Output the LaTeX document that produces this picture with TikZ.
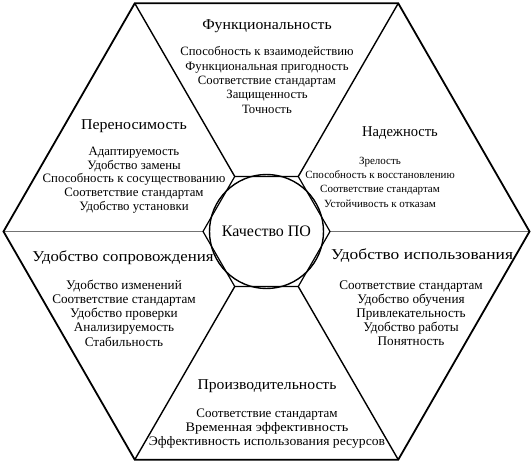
\documentclass[tikz,border=0pt]{standalone}
\usepackage{graphicx}
\usepackage{fontspec}
\setmainfont{Liberation Serif}
\newcommand{\hs}[2]{\scalebox{#1}[1]{#2}}
\begin{document}
\begin{tikzpicture}[x=1pt,y=-1pt,
  edge/.style={line width=1.8pt, line join=miter},
  spoke/.style={line width=1.4pt},
  hspoke/.style={line width=0.6pt, draw=black!55},
  inner/.style={line width=1.2pt, line join=miter},
  title/.style={font=\fontsize{15}{17}\selectfont, inner sep=0pt},
  item/.style={align=center, inner sep=0pt}]
\useasboundingbox (0,0) rectangle (532,462);
% outer hexagon
\coordinate (O1) at (529.5,231.5);
\coordinate (O2) at (398.25,3.3);
\coordinate (O3) at (134.75,3.3);
\coordinate (O4) at (3.5,231.5);
\coordinate (O5) at (134.75,459.7);
\coordinate (O6) at (398.25,459.7);
% inner hexagon
\coordinate (I1) at (330,231.5);
\coordinate (I2) at (298.25,176.5);
\coordinate (I3) at (234.75,176.5);
\coordinate (I4) at (203,231.5);
\coordinate (I5) at (234.75,286.5);
\coordinate (I6) at (298.25,286.5);
\draw[hspoke] (I1) -- (O1);
\draw[hspoke] (I4) -- (O4);
\draw[spoke] (I2) -- (O2);
\draw[spoke] (I3) -- (O3);
\draw[spoke] (I5) -- (O5);
\draw[spoke] (I6) -- (O6);
\draw[edge] (O1) -- (O2) -- (O3) -- (O4) -- (O5) -- (O6) -- cycle;
\draw[inner] (I1) -- (I2) -- (I3) -- (I4) -- (I5) -- (I6) -- cycle;
\node[circle, draw, line width=1.4pt, minimum size=114pt, inner sep=0pt,
  font=\fontsize{16}{18}\selectfont] (q) at (266.5,231.5) {Качество ПО};
% titles
\node[title] (t1) at (267,26) {\hs{1.05}{Функциональность}};
\node[title] (t2) at (134,126) {\hs{1.06}{Переносимость}};
\node[title] (t3) at (400,133) {\hs{0.97}{Надежность}};
\node[title] (t4) at (123,258) {\hs{1.12}{Удобство сопровождения}};
\node[title] (t5) at (422,256) {\hs{1.16}{Удобство использования}};
\node[title] (t6) at (267,386) {\hs{1.045}{Производительность}};
% items
\node[item, font=\fontsize{12.7}{14.3}\selectfont] (l1) at (267,80) {Способность к взаимодействию\\Функциональная пригодность\\Соответствие стандартам\\Защищенность\\Точность};
\node[item, font=\fontsize{12.8}{13.8}\selectfont] (l2) at (134,180) {Адаптируемость\\Удобство замены\\Способность к сосуществованию\\Соответствие стандартам\\Удобство установки};
\node[item, font=\fontsize{11}{14.3}\selectfont] (l3) at (380,182) {Зрелость\\Способность к восстановлению\\Соответствие стандартам\\Устойчивость к отказам};
\node[item, font=\fontsize{13.2}{14.2}\selectfont] (l4) at (124,313) {Удобство изменений\\Соответствие стандартам\\Удобство проверки\\Анализируемость\\Стабильность};
\node[item, font=\fontsize{13.2}{14}\selectfont] (l5) at (411,313.5) {Соответствие стандартам\\Удобство обучения\\Привлекательность\\Удобство работы\\Понятность};
\node[item, font=\fontsize{13}{14}\selectfont] (l6) at (267,428.5) {Соответствие стандартам\\\hs{1.1}{Временная эффективность}\\\hs{1.05}{Эффективность использования ресурсов}};
\end{tikzpicture}
\end{document}
